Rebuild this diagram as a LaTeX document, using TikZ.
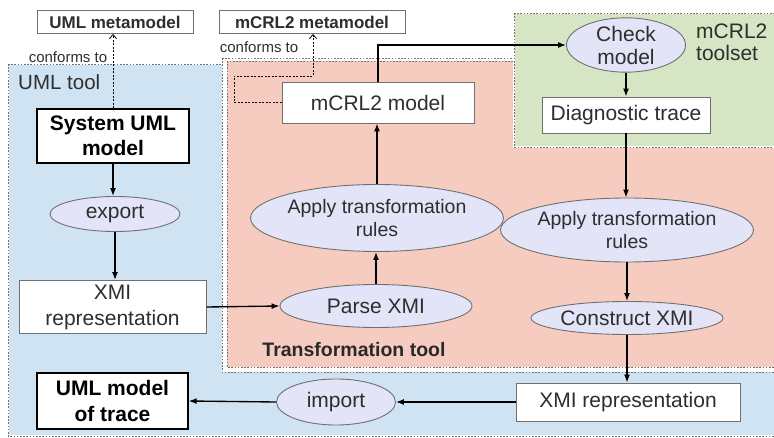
\documentclass[tikz,border=0pt]{standalone}
\usepackage{fontspec}
\setmainfont{Liberation Sans}
\usetikzlibrary{shapes.geometric,arrows.meta}

\definecolor{umlblue}{HTML}{CFE3F2}
\definecolor{trfred}{HTML}{F6CCC0}
\definecolor{toolgreen}{HTML}{D6E6C4}
\definecolor{actfill}{HTML}{E3E4F7}
\definecolor{ink}{HTML}{2E2E2E}
\definecolor{frame}{HTML}{707070}

\begin{document}
\begin{tikzpicture}[x=1pt,y=-1pt,
  gap/.style={draw=white, line width=1.2pt},
  region/.style={draw=frame, line width=0.9pt, dash pattern=on 1.6pt off 1.6pt},
  box/.style={draw=frame, fill=white, line width=0.9pt, inner sep=0pt, text=ink, align=center},
  keybox/.style={draw=black, fill=white, line width=1.3pt, inner sep=0pt, align=center,
    font=\fontsize{21}{25}\selectfont\bfseries},
  act/.style={ellipse, draw=frame, fill=actfill, line width=0.9pt, inner sep=0pt, text=ink, align=center},
  txt/.style={font=\fontsize{21}{26}\selectfont},
  small/.style={font=\fontsize{15}{18}\selectfont, text=ink},
  flow/.style={line width=1.35pt, -{Latex[length=8pt,width=6pt]}},
  conf/.style={line width=0.8pt, dash pattern=on 2pt off 1.5pt, -{Straight Barb[length=4pt,width=7pt]}}
]
\useasboundingbox (0,0) rectangle (774,438);
\clip (0,0) rectangle (774,438);

% tool regions
\fill[umlblue] (8,64) rectangle (800,436);
\draw[gap] (8,64) rectangle (800,436);
\draw[region] (8,64) rectangle (800,436);

\fill[white] (222,58) rectangle (800,372);
\draw[region] (222,58) rectangle (800,372);
\fill[trfred] (227,61) rectangle (800,367);
\draw[region] (227,61) rectangle (800,367);

\fill[toolgreen] (514,13) rectangle (800,147);
\draw[gap] (514,13) rectangle (800,147);
\draw[region] (514,13) rectangle (800,147);

% region labels
\node[txt, text=ink, anchor=west, inner sep=0pt, font=\fontsize{20.5}{24}\selectfont] (umltool) at (18,82) {UML tool};
\node[text=ink, anchor=west, inner sep=0pt, align=left, font=\fontsize{21}{21.5}\selectfont] (mcrltool) at (696,42.5) {mCRL2\\toolset};
\node[text=ink!90!black, inner sep=0pt, font=\fontsize{19.5}{23}\selectfont\bfseries] (trftool) at (354,350) {Transformation tool};

% metamodels
\node[box, minimum width=156pt, minimum height=23pt, font=\fontsize{17}{20}\selectfont\bfseries] (umlmeta) at (115,22) {UML metamodel};
\node[box, minimum width=186pt, minimum height=23pt, font=\fontsize{17}{20}\selectfont\bfseries] (mcrlmeta) at (312,22) {mCRL2 metamodel};
\node[small, inner sep=0pt] (conf1) at (68,57) {conforms to};
\node[small, inner sep=0pt] (conf2) at (259,47) {conforms to};

% UML tool side
\node[keybox, minimum width=152pt, minimum height=54pt] (sysuml) at (113,136) {System UML\\model};
\node[act, txt, minimum width=130pt, minimum height=35pt] (export) at (115,214) {export};
\node[box, txt, minimum width=187pt, minimum height=53pt] (xmia) at (112.5,307) {XMI\\representation};

% transformation tool
\node[act, txt, minimum width=192pt, minimum height=43pt] (parse) at (376,306) {Parse XMI};
\node[act, minimum width=231pt, minimum height=67pt, font=\fontsize{19.5}{23}\selectfont] (applya) at (377,218) {Apply transformation\\rules};
\node[box, txt, minimum width=192pt, minimum height=41pt] (mcrlmodel) at (378,102.5) {mCRL2 model};

% mCRL2 toolset
\node[act, minimum width=119pt, minimum height=46pt, font=\fontsize{21}{23}\selectfont] (check) at (626,45) {Check\\model};
\node[box, txt, minimum width=168pt, minimum height=36pt] (diag) at (626,115) {Diagnostic trace};

% back transformation
\node[act, minimum width=232pt, minimum height=64pt, font=\fontsize{19.5}{23}\selectfont] (applyb) at (627,230) {Apply transformation\\rules};
\node[act, txt, minimum width=192pt, minimum height=33pt] (construct) at (627,318) {Construct XMI};
\node[box, txt, minimum width=224pt, minimum height=38pt] (xmib) at (628,402) {XMI representation};
\node[act, txt, minimum width=119pt, minimum height=46pt] (import) at (336,402) {import};
\node[keybox, minimum width=151pt, minimum height=56pt, font=\fontsize{21}{26}\selectfont\bfseries] (umltrace) at (112.5,401) {UML model\\of trace};

% conformance
\draw[conf] (sysuml.north) -- (sysuml.north |- umlmeta.south);
\coordinate (cbend) at (313,76);
\draw[conf] (mcrlmodel.west) -- (234,102.5) -- (234,76) -- (cbend) -- (cbend |- mcrlmeta.south);

% process flow
\draw[flow] (sysuml.south) -- (sysuml.south |- export.north);
\draw[flow] (export) -- (export |- xmia.north);
\draw[flow] (xmia.east) -- (parse.west);
\draw[flow] (parse.north) -- (parse.north |- applya.south);
\draw[flow] (applya.north) -- (applya.north |- mcrlmodel.south);
\draw[flow] (mcrlmodel.north) |- (check.west);
\draw[flow] (check.south) -- (check.south |- diag.north);
\draw[flow] (diag.south) -- (diag.south |- applyb.north);
\draw[flow] (applyb.south) -- (applyb.south |- construct.north);
\draw[flow] (construct.south) -- (construct.south |- xmib.north);
\draw[flow] (xmib.west) -- (import.east);
\draw[flow] (import.west) -- (umltrace.east);
\end{tikzpicture}
\end{document}
